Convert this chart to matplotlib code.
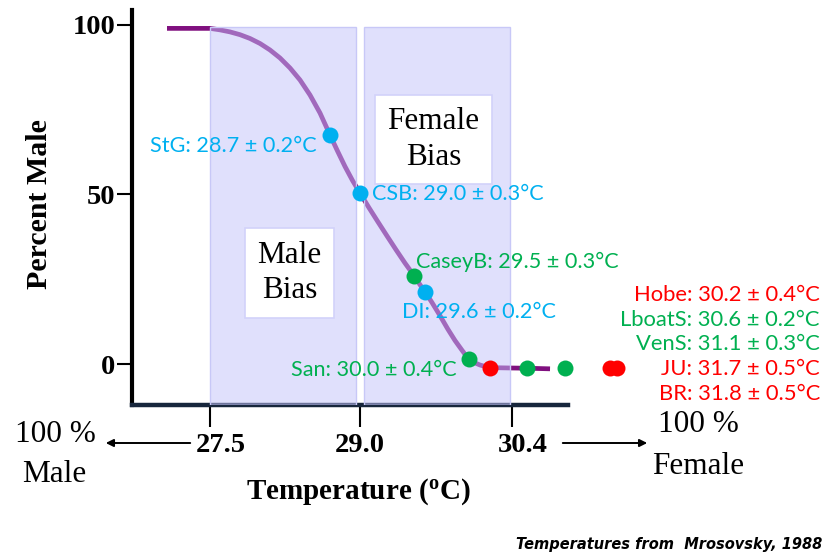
import numpy as np
import matplotlib
matplotlib.use("Agg")
import matplotlib.pyplot as plt
import matplotlib.transforms as mtransforms
from matplotlib.patches import Rectangle

# ---- data -------------------------------------------------------------
# pivotal temperatures by nesting beach (Mrosovsky, 1988)
sites = ["StG", "CSB", "CaseyB", "DI", "San", "Hobe", "LboatS", "VenS", "JU", "BR"]
pivotal_temp = [28.7, 29.0, 29.5, 29.6, 30.0, 30.2, 30.6, 31.1, 31.7, 31.8]
pivotal_err = [0.2, 0.3, 0.3, 0.2, 0.4, 0.4, 0.2, 0.3, 0.5, 0.5]
percent_male = [67.55, 50.44, 25.96, 21.24, 1.47, -1.03, -1.24, -1.1, -1.1, -1.1]
site_group = ["blue", "blue", "green", "blue", "green", "red", "green", "green", "red", "red"]

# sex-ratio response curve
curve_temp = [27.07, 27.50, 27.60, 27.70, 27.80, 27.90, 28.00, 28.10, 28.20, 28.30,
              28.40, 28.50, 28.60, 28.70, 28.775, 28.85, 28.925, 29.00, 29.083, 29.166,
              29.249, 29.332, 29.414, 29.50, 29.548, 29.60, 29.663, 29.737, 29.810, 29.875,
              29.940, 30.00, 30.05, 30.105, 30.151, 30.20, 30.292, 30.40, 30.60, 30.907]
curve_pct = [99.0, 99.0, 98.56, 97.96, 97.14, 96.02, 94.54, 92.63, 90.27, 87.32,
             83.78, 79.35, 74.04, 67.55, 62.83, 58.26, 54.13, 50.44, 46.08, 41.89,
             37.76, 33.69, 29.79, 25.96, 23.60, 21.24, 18.14, 14.25, 10.24, 6.93,
             4.04, 1.47, 0.44, -0.29, -0.71, -1.03, -1.12, -1.18, -1.24, -1.42]

x_ticks = [27.5, 29.0, 30.4]
y_ticks = [0, 50, 100]
male_bias = (27.5, 29.0)
female_bias = (29.0, 30.4)

# ---- styling ----------------------------------------------------------
W, H = 827, 557
SERIF = "Liberation Serif"
SANS = "Lato"
group_color = {"blue": "#00b0f0", "green": "#00b050", "red": "#ff0000"}
CURVE = "#80107f"
SHADE = (195 / 255, 195 / 255, 250 / 255, 0.5)
SHADE_EDGE = "#c8c8f7"


def fig_xy(px, py):
    return px / W, 1 - py / H


fig = plt.figure(figsize=(W / 100, H / 100), dpi=100)
ax = fig.add_axes([132 / W, 1 - 405 / H, 436 / W, 395 / H])

# temperature axis: tick marks are spaced unevenly, piecewise-linear between them
scale_t = [25.0, 27.5, 29.0, 30.4, 33.0]
scale_u = [-250.0, 0.0, 150.0, 302.0, 497.0]
ax.set_xscale("function", functions=(lambda t: np.interp(t, scale_t, scale_u),
                                     lambda u: np.interp(u, scale_u, scale_t)))
ax.set_xlim(np.interp(-78, scale_u, scale_t), np.interp(358, scale_u, scale_t))
y_lo, y_hi = -12.09, 104.42
ax.set_ylim(y_lo, y_hi)

# curve (shading is translucent on top of it)
ax.plot(curve_temp, curve_pct, color=CURVE, lw=3.4, solid_capstyle="butt",
        solid_joinstyle="round", zorder=2)

top_frac = (99.5 - y_lo) / (y_hi - y_lo)
gap = 0.04
ax.axvspan(male_bias[0], male_bias[1] - gap, ymin=0, ymax=top_frac,
           facecolor=SHADE, edgecolor=SHADE_EDGE, lw=1, zorder=3)
ax.axvspan(female_bias[0] + gap, female_bias[1] - 0.02, ymin=0, ymax=top_frac,
           facecolor=SHADE, edgecolor=SHADE_EDGE, lw=1, zorder=3)

# bias boxes
for (x0, y0, x1, y1), txt in [((0.259, 0.220, 0.463, 0.448), "Male\nBias"),
                              ((0.557, 0.559, 0.826, 0.785), "Female\nBias")]:
    ax.add_patch(Rectangle((x0, y0), x1 - x0, y1 - y0, transform=ax.transAxes,
                           facecolor="white", edgecolor="#d2d2fa", lw=1.2, zorder=5))
    ax.text((x0 + x1) / 2, (y0 + y1) / 2, txt, transform=ax.transAxes, ha="center",
            va="center", family=SERIF, fontsize=22.5, linespacing=1.3, zorder=6)

# site markers
for t, p, g in zip(pivotal_temp, percent_male, site_group):
    ax.plot(t, p, "o", ms=11.5, color=group_color[g], mec="none", zorder=7, clip_on=False)


def site_label(i):
    return f"{sites[i]}: {pivotal_temp[i]:.1f} \u00b1 {pivotal_err[i]:.1f}\u00b0C"


# labels placed beside their markers
beside = {"StG": (-9.4, -7.9, "right"), "CSB": (8.6, -0.7, "left"),
          "CaseyB": (1.4, 10.0, "left"), "DI": (-16.6, -14.4, "left"),
          "San": (-8.6, -7.9, "right")}
for i, s in enumerate(sites):
    if s in beside:
        dx, dy, ha = beside[s]
        ax.annotate(site_label(i), (pivotal_temp[i], percent_male[i]), xytext=(dx, dy),
                    textcoords="offset points", ha=ha, va="center", family=SANS,
                    fontsize=15.6, color=group_color[site_group[i]], zorder=8,
                    annotation_clip=False)

# list of the warmer beaches at right
row_y = 295
for i, s in enumerate(sites):
    if s not in beside:
        fig.text(*fig_xy(820, row_y), site_label(i), ha="right", va="center",
                 family=SANS, fontsize=15.8, color=group_color[site_group[i]])
        row_y += 24.7

# axes styling
for side in ("top", "right"):
    ax.spines[side].set_visible(False)
ax.spines["left"].set_linewidth(3)
ax.spines["left"].set_color("black")
ax.spines["bottom"].set_linewidth(3.2)
ax.spines["bottom"].set_color("#17263c")
ax.set_xticks(x_ticks, [f"{v:.1f}" for v in x_ticks])
ax.set_yticks(y_ticks, [str(v) for v in y_ticks])
ax.tick_params(axis="x", length=16, width=1.5, pad=4, color="black")
ax.tick_params(axis="y", length=11, width=1.5, pad=1, color="black")
for lab in ax.get_xticklabels() + ax.get_yticklabels():
    lab.set_fontfamily(SERIF)
    lab.set_fontweight("bold")
    lab.set_fontsize(20.5)
# outer temperature labels sit a little right of their ticks
nudge = mtransforms.ScaledTranslation(8 / 72, 0, fig.dpi_scale_trans)
xlabels = ax.get_xticklabels()
for lab in (xlabels[0], xlabels[-1]):
    lab.set_transform(lab.get_transform() + nudge)

ax.set_ylabel("Percent Male", family=SERIF, fontweight="bold", fontsize=21.5)
ax.yaxis.set_label_coords(-0.181, 0.509)
fig.text(*fig_xy(358, 492), "Temperature (" + r"$\mathregular{^o}$" + "C)", ha="center",
         va="center", family=SERIF, fontweight="bold", fontsize=21)

# direction arrows and end labels
ax.annotate("", xy=fig_xy(103, 443), xytext=fig_xy(193, 443), xycoords="figure fraction",
            textcoords="figure fraction",
            arrowprops=dict(arrowstyle="-|>", lw=1.4, color="black", mutation_scale=11))
ax.annotate("", xy=fig_xy(650, 443), xytext=fig_xy(560, 443), xycoords="figure fraction",
            textcoords="figure fraction",
            arrowprops=dict(arrowstyle="-|>", lw=1.4, color="black", mutation_scale=11))
fig.text(*fig_xy(55, 434), "100 %", ha="center", va="center", family=SERIF, fontsize=22.5)
fig.text(*fig_xy(54, 475), "Male", ha="center", va="center", family=SERIF, fontsize=22.5)
fig.text(*fig_xy(698, 425), "100 %", ha="center", va="center", family=SERIF, fontsize=22.5)
fig.text(*fig_xy(698, 467), "Female", ha="center", va="center", family=SERIF, fontsize=22.5)

fig.text(*fig_xy(822, 545), "Temperatures from  Mrosovsky, 1988", ha="right", va="center",
         family="DejaVu Sans", fontweight="bold", style="italic", fontsize=10.5)

fig.savefig("out.png", dpi=100)
